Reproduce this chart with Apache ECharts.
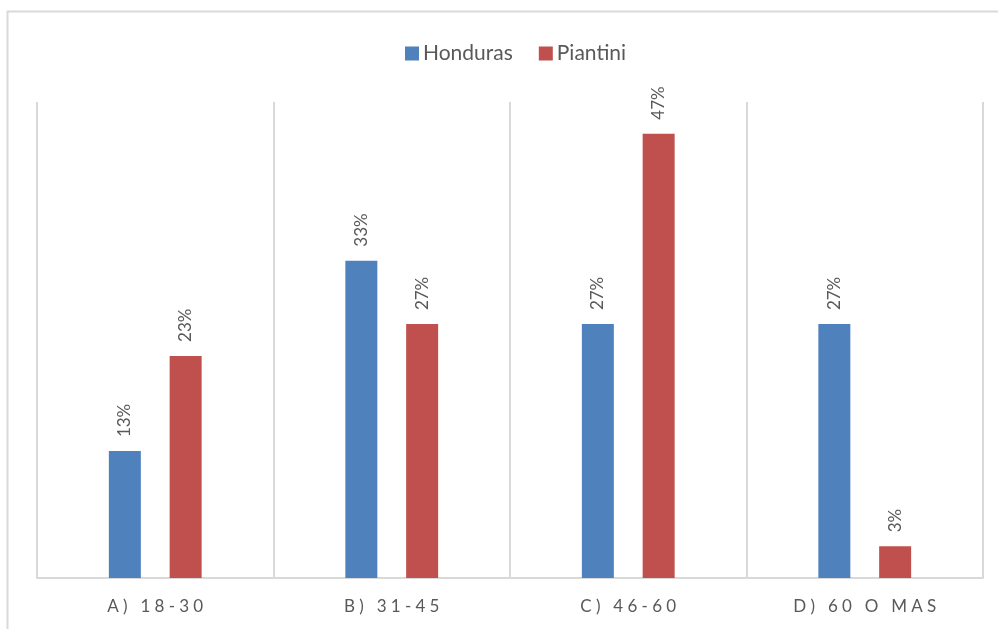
<!DOCTYPE html>
<html><head><meta charset="utf-8">
<script src="https://cdn.jsdelivr.net/npm/echarts@6/dist/echarts.min.js"></script>
<style>html,body{margin:0;padding:0;background:#fff}#c{width:998px;height:629px}</style>
</head><body><div id="c"></div>
<script>
const categories = ["A) 18-30", "B) 31-45", "C) 46-60", "D) 60 O MAS"];
const honduras = [13.33, 33.33, 26.67, 26.67];
const piantini = [23.33, 26.67, 46.67, 3.33];
const seriesNames = ["Honduras", "Piantini"];

function spaced(s){ return s.split('').join('\u2005'); }
const chart = echarts.init(document.getElementById('c'));
const lbl = {
  show: true, position: 'top', rotate: 90, align: 'left', verticalAlign: 'middle',
  distance: 14, color: '#595959', fontSize: 17, fontFamily: 'Lato',
  formatter: p => Math.round(p.value) + '%'
};
chart.setOption({
  animation: false,
  backgroundColor: '#fff',
  graphic: [{type:'rect', shape:{x:7.5,y:11.5,width:1000,height:700}, style:{fill:'none', stroke:'#d9d9d9', lineWidth:2}, silent:true}],
  legend: {
    top: 38, left: 400, itemWidth: 14, itemHeight: 14, itemGap: 26,
    icon: 'rect',
    textStyle: {color:'#595959', fontSize: 21, fontFamily:'Lato', padding:[0,0,0,-1]},
    data: seriesNames
  },
  grid: {left: 37, right: 15, top: 102, bottom: 51},
  xAxis: {
    type: 'category', data: categories,
    axisLine: {show:true, lineStyle:{color:'#d9d9d9', width:2}},
    axisTick: {show:false},
    splitLine: {show:true, lineStyle:{color:'#d9d9d9', width:2}},
    axisLabel: {color:'#595959', fontSize:17, fontFamily:'Lato', margin: 20, formatter: v => spaced(v)}
  },
  yAxis: {type:'value', min:0, max:50, show:false, splitLine:{show:false}},
  series: [
    {name: seriesNames[0], type:'bar', data: honduras, barWidth: 32, barGap: '90%', itemStyle:{color:'#4F81BD'}, label: lbl},
    {name: seriesNames[1], type:'bar', data: piantini, barWidth: 32, itemStyle:{color:'#C0504D'}, label: lbl}
  ]
});
</script></body></html>
